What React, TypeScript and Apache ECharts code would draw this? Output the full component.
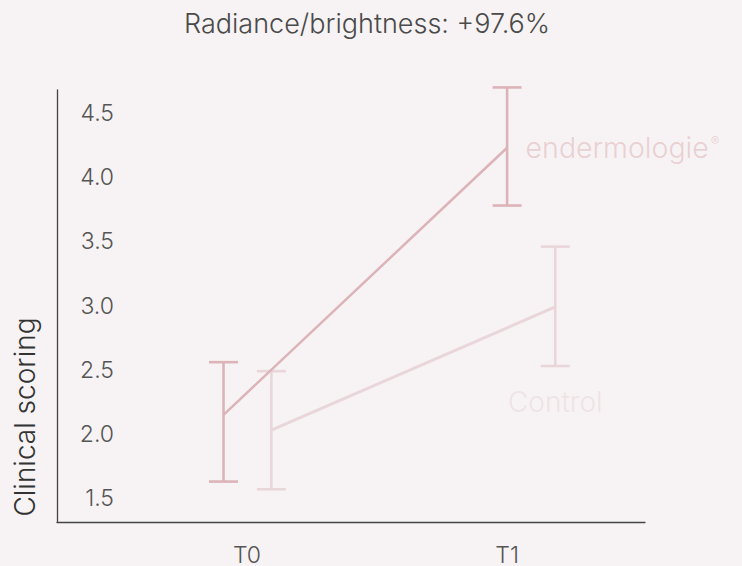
import React, { useEffect, useRef } from "react";
import * as echarts from "echarts";

// ---- data ----
const categories = ["T0", "T1"];
const categoryX = [0, 1];
const enderX = [-0.09, 1.0];
const controlX = [0.094, 1.185];
const enderMean = [2.15, 4.23];
const enderLow = [1.63, 3.78];
const enderHigh = [2.56, 4.7];
const controlMean = [2.03, 2.99];
const controlLow = [1.57, 2.53];
const controlHigh = [2.49, 3.46];
const yTicks = [1.5, 2.0, 2.5, 3.0, 3.5, 4.0, 4.5];
const titleText = "Radiance/brightness: +97.6%";
const yName = "Clinical scoring";

const FONT = "Inter, 'Open Sans', sans-serif";
const BG = "#f7f3f4";
const ENDER = "#dcb3b8";
const CONTROL = "#e9d6da";

function errorBarSeries(name: string, xs: number[], lows: number[], highs: number[], color: string, z: number) {
  return {
    type: "custom",
    name,
    z,
    silent: true,
    clip: false,
    data: xs.map((x, i) => [x, lows[i], highs[i]]),
    renderItem: (params: any, api: any) => {
      const x = api.value(0);
      const lo = api.coord([x, api.value(1)]);
      const hi = api.coord([x, api.value(2)]);
      const hw = 14.5;
      const style = { stroke: color, lineWidth: 2.6, fill: "none" };
      return {
        type: "group",
        children: [
          { type: "line", shape: { x1: lo[0], y1: lo[1], x2: hi[0], y2: hi[1] }, style },
          { type: "line", shape: { x1: hi[0] - hw, y1: hi[1], x2: hi[0] + hw, y2: hi[1] }, style },
          { type: "line", shape: { x1: lo[0] - hw, y1: lo[1], x2: lo[0] + hw, y2: lo[1] }, style },
        ],
      };
    },
  };
}

export default function App() {
  const ref = useRef<HTMLDivElement>(null);
  useEffect(() => {
    if (!ref.current) return;
    const chart = echarts.init(ref.current, undefined, { renderer: "svg" });
    const option: any = {
      animation: false,
      backgroundColor: BG,
      title: {
        text: titleText,
        left: 179,
        top: 5,
        textStyle: { fontFamily: FONT, fontWeight: 300, fontSize: 27, color: "#4a4a4a" },
      },
      grid: { left: 57, right: 97, top: 90, bottom: 44 },
      xAxis: {
        type: "value",
        min: -0.73,
        max: 1.53,
        splitLine: { show: false },
        axisTick: { show: false },
        axisLine: { show: true, onZero: false, lineStyle: { color: "#444", width: 1.3 } },
        axisLabel: {
          margin: 21,
          fontFamily: FONT,
          fontWeight: 300,
          fontSize: 23,
          color: "#555",
          showMinLabel: false,
          showMaxLabel: false,
          formatter: (v: number) => {
            const i = categoryX.findIndex((c) => Math.abs(c - v) < 1e-6);
            return i >= 0 ? categories[i] : "";
          },
        },
      },
      yAxis: {
        type: "value",
        min: 1.315,
        max: 4.68,
        splitNumber: 7,
        splitLine: { show: false },
        axisTick: { show: false },
        axisLine: { show: true, onZero: false, lineStyle: { color: "#444", width: 1.3 } },
        axisLabel: {
          margin: -57,
          align: "right",
          fontFamily: FONT,
          fontWeight: 300,
          fontSize: 23,
          color: "#555",
          formatter: (v: number) => {
            const t = yTicks.find((y) => Math.abs(y - v) < 1e-6);
            return t !== undefined ? t.toFixed(1) : "";
          },
        },
      },
      graphic: [
        {
          type: "text",
          x: 25,
          y: 417,
          rotation: Math.PI / 2,
          style: {
            text: yName,
            fontFamily: FONT,
            fontWeight: 300,
            fontSize: 28,
            fill: "#333",
            textAlign: "center",
            textVerticalAlign: "middle",
          },
        },
      ],
      series: [
        errorBarSeries("Control err", controlX, controlLow, controlHigh, CONTROL, 2),
        {
          type: "line",
          name: "Control",
          z: 2,
          symbol: "none",
          lineStyle: { color: CONTROL, width: 3 },
          data: controlX.map((x, i) => [x, controlMean[i]]),
        },
        errorBarSeries("endermologie err", enderX, enderLow, enderHigh, ENDER, 3),
        {
          type: "line",
          name: "endermologie",
          z: 3,
          symbol: "none",
          lineStyle: { color: ENDER, width: 2.5 },
          data: enderX.map((x, i) => [x, enderMean[i]]),
        },
        {
          type: "scatter",
          name: "labels-ender",
          silent: true,
          symbolSize: 1,
          itemStyle: { color: "rgba(0,0,0,0)" },
          data: [[enderX[1], enderMean[1]]],
          label: {
            show: true,
            position: "right",
            distance: 18,
            formatter: "{a|endermologie}{b|®}",
            rich: {
              a: { fontFamily: FONT, fontWeight: 300, fontSize: 28.5, color: "#e6c7cb" },
              b: { fontFamily: FONT, fontWeight: 300, fontSize: 13, color: "#e6c7cb", padding: [0, 0, 14, 2] },
            },
          },
        },
        {
          type: "scatter",
          name: "labels-control",
          silent: true,
          symbolSize: 1,
          itemStyle: { color: "rgba(0,0,0,0)" },
          data: [[controlX[1], controlLow[1]]],
          label: {
            show: true,
            position: "bottom",
            distance: 21,
            formatter: "Control",
            fontFamily: FONT,
            fontWeight: 300,
            fontSize: 28,
            color: "#ecdfe2",
          },
        },
      ],
    };
    chart.setOption(option);
    return () => chart.dispose();
  }, []);
  return <div ref={ref} style={{ width: 742, height: 566, position: "absolute", left: 0, top: 0 }} />;
}
